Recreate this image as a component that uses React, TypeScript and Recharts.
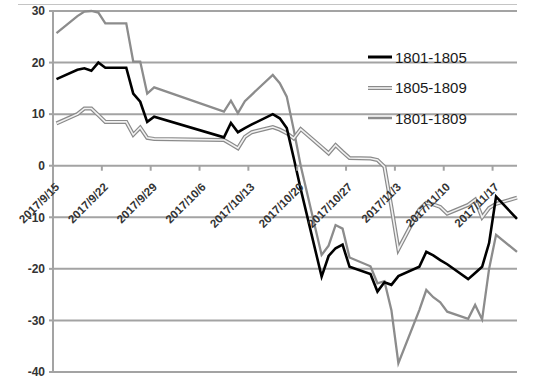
import React from 'react';
import {
  LineChart,
  Line,
  XAxis,
  YAxis,
  CartesianGrid,
  ReferenceDot,
} from 'recharts';

// trading days shown on the chart
const dates = [
  '2017/9/15', '2017/9/18', '2017/9/19', '2017/9/20', '2017/9/21', '2017/9/22',
  '2017/9/25', '2017/9/26', '2017/9/27', '2017/9/28', '2017/9/29',
  '2017/10/9', '2017/10/10', '2017/10/11', '2017/10/12', '2017/10/13',
  '2017/10/16', '2017/10/17', '2017/10/18', '2017/10/19', '2017/10/20',
  '2017/10/23', '2017/10/24', '2017/10/25', '2017/10/26', '2017/10/27',
  '2017/10/30', '2017/10/31', '2017/11/1', '2017/11/2', '2017/11/3',
  '2017/11/6', '2017/11/7', '2017/11/8', '2017/11/9', '2017/11/10',
  '2017/11/13', '2017/11/14', '2017/11/15', '2017/11/16', '2017/11/17',
  '2017/11/20',
];

const spread1801_1805 = [
  16.8, 18.6, 18.9, 18.4, 20.0, 19.0,
  19.0, 14.0, 12.4, 8.5, 9.5,
  5.5, 8.3, 6.5, 7.3, 8.0,
  10.0, 9.2, 7.3, 1.5, -4.5,
  -21.5, -17.5, -16.0, -15.3, -19.6,
  -21.0, -24.4, -22.6, -23.1, -21.4,
  -19.6, -16.7, -17.4, -18.3, -19.1,
  -22.0, -20.8, -19.6, -15.0, -6.0,
  -10.3,
];

const spread1805_1809 = [
  8.2, 10.0, 11.1, 11.1, 9.8, 8.5,
  8.5, 6.0, 7.4, 5.4, 5.2,
  5.0, 4.2, 3.4, 5.6, 6.5,
  7.5, 7.0, 6.3, 5.3, 7.1,
  3.6, 2.4, 4.0, 2.7, 1.5,
  1.4, 1.1, -0.2, -8.0, -16.2,
  -8.5, -7.2, -7.5, -8.0, -9.3,
  -7.6, -6.6, -10.0, -8.2, -7.4,
  -6.2,
];

const spread1801_1809 = [
  25.7, 29.0, 29.9, 30.0, 29.7, 27.6,
  27.6, 20.2, 20.2, 14.0, 15.2,
  10.5, 12.6, 10.2, 12.5, 13.8,
  17.6, 16.0, 13.4, 7.0, 0.0,
  -17.3, -15.5, -11.5, -12.2, -17.8,
  -19.5, -22.8, -22.4, -28.0, -38.3,
  -28.0, -24.1, -25.5, -26.5, -28.3,
  -29.7, -27.0, -29.8, -20.0, -13.4,
  -16.7,
];

const tickDates = [
  '2017/9/15', '2017/9/22', '2017/9/29', '2017/10/6', '2017/10/13',
  '2017/10/20', '2017/10/27', '2017/11/3', '2017/11/10', '2017/11/17',
];

const yTicks = [-40, -30, -20, -10, 0, 10, 20, 30];

const FONT = '"Liberation Sans", Arial, sans-serif';
const GRID = '#a3a3a3';

// days since the first date (Excel date axis)
const dayOf = (s: string) => {
  const [y, m, d] = s.split('/').map(Number);
  const t0 = Date.UTC(2017, 8, 15);
  return Math.round((Date.UTC(y, m - 1, d) - t0) / 86400000);
};

const data = dates.map((d, i) => ({
  x: dayOf(d) + 0.5, // points sit between tick marks
  a: spread1801_1805[i],
  b: spread1805_1809[i],
  c: spread1801_1809[i],
}));

const lastX = data[data.length - 1].x;

const dateTick = (label: string) => (props: any) => {
  const { cx, cy } = props;
  const tx = cx + 7;
  const ty = cy + 22;
  return (
    <g>
      <line x1={cx} y1={cy} x2={cx} y2={cy + 5} stroke={GRID} strokeWidth={2} />
      <text
        x={tx}
        y={ty}
        transform={`rotate(-45 ${tx} ${ty})`}
        textAnchor="end"
        fontSize={11.5}
        fontWeight={700}
        fontFamily={FONT}
        fill="#333"
      >
        {label}
      </text>
    </g>
  );
};

const legendItems = [
  { name: '1801-1805', kind: 'black' },
  { name: '1805-1809', kind: 'double' },
  { name: '1801-1809', kind: 'grey' },
];

const LegendSample = ({ kind }: { kind: string }) => (
  <svg width={26} height={8} style={{ marginRight: 2 }}>
    {kind === 'black' && <line x1={1} y1={4} x2={25} y2={4} stroke="#000" strokeWidth={3} />}
    {kind === 'grey' && <line x1={1} y1={4} x2={25} y2={4} stroke="#8c8c8c" strokeWidth={2.5} />}
    {kind === 'double' && (
      <>
        <line x1={1} y1={4} x2={25} y2={4} stroke="#8a8a8a" strokeWidth={4} />
        <line x1={1} y1={4} x2={25} y2={4} stroke="#f2f2f2" strokeWidth={1.6} />
      </>
    )}
  </svg>
);

export default function App() {
  return (
    <div
      style={{
        position: 'absolute',
        left: 0,
        top: 0,
        width: 542,
        height: 386,
        background: '#fff',
        fontFamily: FONT,
      }}
    >
      <div
        style={{
          position: 'absolute',
          left: 18,
          top: 4,
          width: 499,
          height: 1,
          background: '#c4c4c4',
        }}
      />
      <LineChart
        width={542}
        height={386}
        data={data}
        margin={{ top: 11, right: 25, bottom: 14, left: 0 }}
      >
        <CartesianGrid vertical={false} stroke={GRID} strokeWidth={2} />
        <XAxis dataKey="x" type="number" domain={[0, lastX]} hide />
        <YAxis
          width={53}
          domain={[-40, 30]}
          ticks={yTicks}
          interval={0}
          axisLine={{ stroke: GRID, strokeWidth: 2 }}
          tickLine={{ stroke: GRID, strokeWidth: 2 }}
          tickSize={4}
          tickMargin={4}
          tick={{ fill: '#333', fontSize: 12, fontWeight: 700, fontFamily: FONT }}
        />
        {tickDates.map((t) => (
          <ReferenceDot
            key={t}
            x={dayOf(t)}
            y={0}
            r={0}
            ifOverflow="visible"
            shape={dateTick(t)}
          />
        ))}
        <Line
          dataKey="c"
          name="1801-1809"
          stroke="#8c8c8c"
          strokeWidth={2.3}
          dot={false}
          isAnimationActive={false}
        />
        <Line
          dataKey="b"
          name="1805-1809"
          stroke="#8a8a8a"
          strokeWidth={4}
          dot={false}
          isAnimationActive={false}
        />
        <Line
          dataKey="b"
          name="1805-1809 inner"
          stroke="#f2f2f2"
          strokeWidth={1.6}
          dot={false}
          isAnimationActive={false}
        />
        <Line
          dataKey="a"
          name="1801-1805"
          stroke="#000"
          strokeWidth={2.6}
          dot={false}
          isAnimationActive={false}
        />
      </LineChart>
      <div
        style={{
          position: 'absolute',
          left: 367,
          top: 42,
          fontSize: 15,
          color: '#1a1a1a',
        }}
      >
        {legendItems.map((it) => (
          <div key={it.name} style={{ display: 'flex', alignItems: 'center', height: 30.5 }}>
            <LegendSample kind={it.kind} />
            <span>{it.name}</span>
          </div>
        ))}
      </div>
    </div>
  );
}
